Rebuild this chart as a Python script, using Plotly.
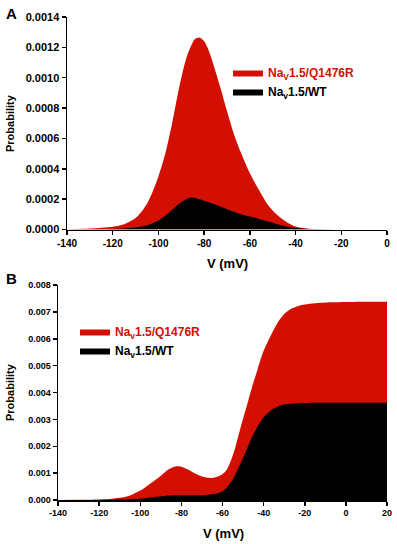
import plotly.graph_objects as go

# ---------------- data ----------------
# Panel A
vA = [-140, -130, -120, -115, -110, -105, -100, -97, -94, -91, -88, -86, -84, -82, -80,
      -78, -76, -73, -70, -67, -64, -60, -56, -52, -48, -44, -40, -35, -30, -20, -10, 0]
redA = [0.000002, 0.000006, 0.000018, 0.000035, 0.000075, 0.00017, 0.00035, 0.00050, 0.00070,
        0.00093, 0.00112, 0.00120, 0.001255, 0.001265, 0.00124, 0.00118, 0.00109, 0.00094,
        0.00078, 0.00063, 0.00051, 0.00037, 0.00026, 0.00016, 0.000095, 0.00005, 0.00002,
        0.000007, 0.000002, 0.0, 0.0, 0.0]
wtA = [0.0, 0.000001, 0.000004, 0.000007, 0.000013, 0.000028, 0.00006, 0.00009, 0.00013,
       0.00017, 0.000198, 0.000211, 0.000208, 0.0002, 0.00019, 0.00018, 0.00017, 0.000152,
       0.000134, 0.000117, 0.0001, 0.000085, 0.00007, 0.000052, 0.000035, 0.00002, 0.00001,
       0.000004, 0.000001, 0.0, 0.0, 0.0]

# Panel B
vB = [-140, -130, -120, -115, -110, -105, -100, -96, -92, -89, -86, -83, -80, -77, -74, -71,
      -68, -65, -62, -60, -58, -56, -54, -51, -48, -46, -43, -40, -36, -33, -30, -27, -23,
      -20, -15, -10, 0, 10, 20]
redB = [0.000003, 0.000008, 0.00002, 0.00004, 0.00008, 0.00017, 0.00035, 0.00056, 0.00078,
        0.00097, 0.00115, 0.00125, 0.00124, 0.00114, 0.00101, 0.00090, 0.00084, 0.00082,
        0.00088, 0.00097, 0.00112, 0.00145, 0.00190, 0.00275, 0.00355, 0.00410, 0.00485,
        0.00555, 0.00620, 0.00662, 0.00692, 0.00710, 0.00722, 0.00727, 0.00732, 0.00735,
        0.00737, 0.00738, 0.00738]
wtB = [0.0, 0.000001, 0.000004, 0.000007, 0.000014, 0.00003, 0.00005, 0.00008, 0.00012,
       0.00015, 0.00017, 0.00018, 0.00018, 0.00018, 0.00018, 0.00018, 0.00019, 0.00021,
       0.00026, 0.00033, 0.00046, 0.00065, 0.00090, 0.00140, 0.00192, 0.00228, 0.00273,
       0.00308, 0.00336, 0.00348, 0.00355, 0.00358, 0.0036, 0.00361, 0.00362, 0.00362,
       0.00362, 0.00362, 0.00362]

xticksA = [-140, -120, -100, -80, -60, -40, -20, 0]
xlabelsA = ["-140", "-120", "-100", "-80", "-60", "-40", "-20", "0"]
yticksA = [0.0, 0.0002, 0.0004, 0.0006, 0.0008, 0.0010, 0.0012, 0.0014]
xticksB = [-140, -120, -100, -80, -60, -40, -20, 0, 20]
xlabelsB = ["-140", "-120", "-100", "-80", "-60", "-40", "-20", "0", "20"]
yticksB = [0.0, 0.001, 0.002, 0.003, 0.004, 0.005, 0.006, 0.007, 0.008]

RED = "#d20f00"
BLACK = "#000000"
FONT = "Liberation Sans, Arial, sans-serif"

nameRedA = '<span style="color:#d20f00">Na<sub>V</sub>1.5/Q1476R</span>'
nameWtA = 'Na<sub>v</sub>1.5/WT'
nameRedB = '<span style="color:#d20f00">Na<sub>v</sub>1.5/Q1476R</span>'
nameWtB = 'Na<sub>v</sub>1.5/WT'

fig = go.Figure()

fig.add_trace(go.Scatter(x=vA, y=redA, mode="lines", fill="tozeroy", fillcolor=RED,
                         line=dict(width=0, color=RED, shape="spline", smoothing=0.8),
                         name=nameRedA, xaxis="x", yaxis="y", legend="legend"))
fig.add_trace(go.Scatter(x=vA, y=wtA, mode="lines", fill="tozeroy", fillcolor=BLACK,
                         line=dict(width=0, color=BLACK, shape="spline", smoothing=0.8),
                         name=nameWtA, xaxis="x", yaxis="y", legend="legend"))
fig.add_trace(go.Scatter(x=vB, y=redB, mode="lines", fill="tozeroy", fillcolor=RED,
                         line=dict(width=0, color=RED, shape="spline", smoothing=0.8),
                         name=nameRedB, xaxis="x2", yaxis="y2", legend="legend2"))
fig.add_trace(go.Scatter(x=vB, y=wtB, mode="lines", fill="tozeroy", fillcolor=BLACK,
                         line=dict(width=0, color=BLACK, shape="spline", smoothing=0.8),
                         name=nameWtB, xaxis="x2", yaxis="y2", legend="legend2"))

W, H = 397, 544

def px(x):
    return x / W

def py(y):
    return 1 - y / H

axis_common = dict(showline=True, linecolor="black", linewidth=1.5, ticks="outside",
                   ticklen=4, tickwidth=1.5, tickcolor="black", showgrid=False,
                   zeroline=False, automargin=False, ticklabeloverflow="allow")

def ann(text, x, y, size, angle=0, xanchor="center", yanchor="middle"):
    return dict(text=text, x=px(x), y=py(y), xref="paper", yref="paper",
                xanchor=xanchor, yanchor=yanchor, showarrow=False, textangle=angle,
                font=dict(size=size, color="black"))

fig.update_layout(
    width=W, height=H,
    margin=dict(l=0, r=0, t=0, b=0, autoexpand=False),
    paper_bgcolor="white", plot_bgcolor="white",
    font=dict(family=FONT, color="black"),
    hovermode=False,
    xaxis=dict(axis_common, domain=[px(67), px(387)], range=[-140, 0], anchor="y",
               tickvals=xticksA, ticktext=xlabelsA, tickfont=dict(size=10, weight="bold")),
    yaxis=dict(axis_common, domain=[py(229.5), py(17)], range=[0, 0.0014], anchor="x",
               tickvals=yticksA, tickformat=".4f", tickfont=dict(size=11, weight="bold")),
    xaxis2=dict(axis_common, domain=[px(58), px(387)], range=[-140, 20], anchor="y2",
                tickvals=xticksB, ticktext=xlabelsB, tickfont=dict(size=9, weight="bold")),
    yaxis2=dict(axis_common, domain=[py(500), py(285)], range=[0, 0.008], anchor="x2",
                tickvals=yticksB, tickformat=".3f", tickfont=dict(size=9, weight="bold")),
    legend=dict(x=px(228), y=py(58), xanchor="left", yanchor="top",
                bgcolor="rgba(0,0,0,0)", font=dict(size=12, weight="bold"),
                tracegroupgap=0, traceorder="normal"),
    legend2=dict(x=px(75), y=py(317), xanchor="left", yanchor="top",
                 bgcolor="rgba(0,0,0,0)", font=dict(size=12, weight="bold"),
                 tracegroupgap=0, traceorder="normal"),
    showlegend=True,
    annotations=[
        ann("<b>A</b>", 4, 3, 15, xanchor="left", yanchor="top"),
        ann("<b>B</b>", 4, 268, 15, xanchor="left", yanchor="top"),
        ann("<b>Probability</b>", 10, 123, 11, angle=-90),
        ann("<b>Probability</b>", 10, 392, 11, angle=-90),
        ann("<b>V (mV)</b>", 227, 263, 13),
        ann("<b>V (mV)</b>", 223, 533, 13),
    ],
)

fig.write_html("out.html", config={"displayModeBar": False, "staticPlot": True},
               post_script="document.body.style.margin='0px';document.body.style.overflow='hidden';")
